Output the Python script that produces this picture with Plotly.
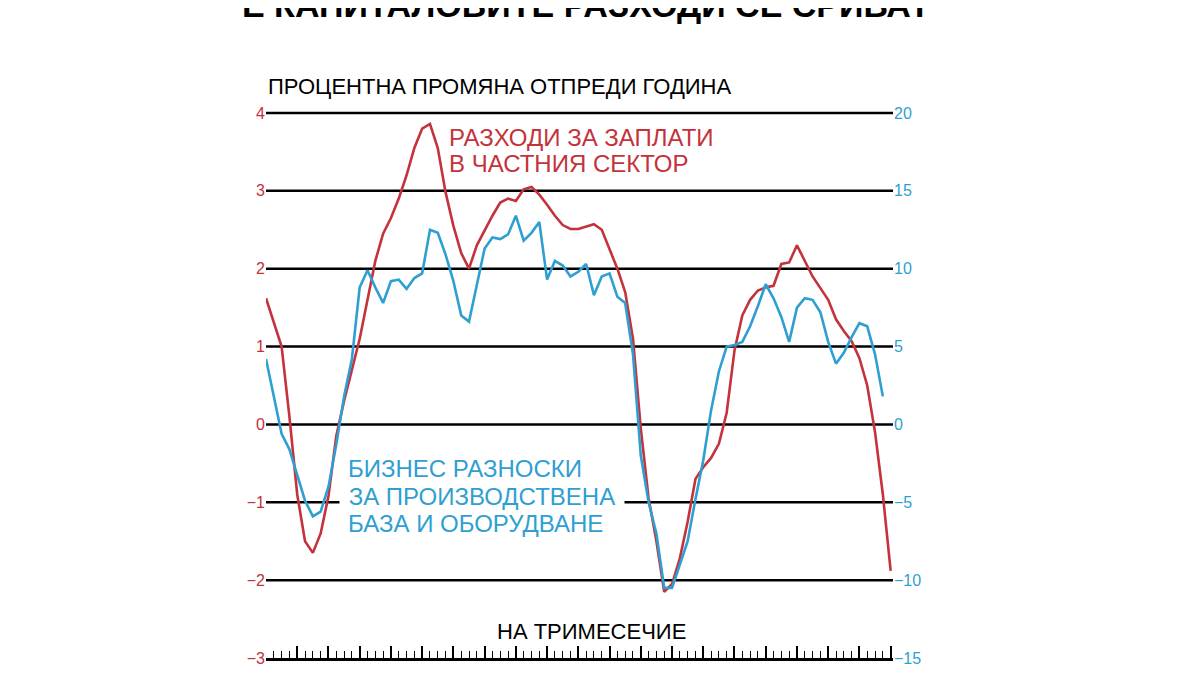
import plotly.graph_objects as go

# тримесечия, 1989 Q1 - 2009 Q1 (индекс 0..80)
quarters = list(range(81))

# разходи за заплати в частния сектор, % спрямо предходната година (лява ос)
wages = [1.62, 1.3, 1.0, 0.1, -0.9, -1.5, -1.65, -1.4, -0.92, -0.15,
         0.3, 0.7, 1.1, 1.6, 2.1, 2.45, 2.65, 2.9, 3.2, 3.55,
         3.8, 3.86, 3.55, 2.98, 2.55, 2.2, 2.0, 2.3, 2.5, 2.68,
         2.85, 2.9, 2.87, 3.02, 3.05, 2.95, 2.82, 2.68, 2.56, 2.51,
         2.51, 2.54, 2.57, 2.5, 2.25, 2.0, 1.7, 1.1, -0.05, -0.95,
         -1.5, -2.15, -2.05, -1.72, -1.25, -0.7, -0.55, -0.43, -0.25, 0.15,
         0.95, 1.4, 1.6, 1.72, 1.76, 1.78, 2.06, 2.08, 2.3, 2.1,
         1.9, 1.75, 1.6, 1.35, 1.2, 1.07, 0.85, 0.5, -0.1, -0.9,
         -1.88]

# бизнес разноски за база и оборудване, % (дясна ос)
capex = [4.2, 1.8, -0.6, -1.6, -3.3, -4.9, -5.9, -5.6, -4.0, -1.3,
         1.8, 4.2, 8.8, 9.9, 8.8, 7.8, 9.2, 9.3, 8.7, 9.4,
         9.7, 12.5, 12.3, 10.9, 9.2, 7.0, 6.6, 9.0, 11.3, 12.0,
         11.9, 12.2, 13.4, 11.8, 12.3, 13.0, 9.3, 10.5, 10.2, 9.5,
         9.8, 10.3, 8.3, 9.5, 9.7, 8.2, 7.8, 4.5, -2.0, -5.0,
         -7.0, -10.5, -10.5, -9.0, -7.5, -4.8, -2.3, 0.9, 3.4, 5.0,
         5.1, 5.3, 6.3, 7.6, 9.0, 8.1, 6.9, 5.3, 7.5, 8.1,
         8.0, 7.2, 5.3, 3.9, 4.6, 5.6, 6.5, 6.3, 4.5, 1.8]

left_ticks = [-3, -2, -1, 0, 1, 2, 3, 4]
right_ticks = [-15, -10, -5, 0, 5, 10, 15, 20]

red_label = ['РАЗХОДИ ЗА ЗАПЛАТИ', 'В ЧАСТНИЯ СЕКТОР']
blue_label = ['БИЗНЕС РАЗНОСКИ', 'БАЗА И ОБОРУДВАНЕ', 'ЗА ПРОИЗВОДСТВЕНА']

red = '#c4323c'
blue = '#2f9fd2'
font = 'Liberation Sans, Arial'

fig = go.Figure()
fig.add_trace(go.Scatter(x=quarters, y=wages, mode='lines',
                         line=dict(color=red, width=2.6), yaxis='y'))
fig.add_trace(go.Scatter(x=quarters[:len(capex)], y=capex, mode='lines',
                         line=dict(color=blue, width=2.6), yaxis='y2'))

# хоризонтални линии (включително горната при 4)
for v in left_ticks[1:]:
    fig.add_shape(type='line', xref='paper', yref='y', x0=0, x1=1, y0=v, y1=v,
                  line=dict(color='black', width=2.5), layer='below')

fig.update_layout(
    width=1200,
    height=675,
    showlegend=False,
    plot_bgcolor='white',
    paper_bgcolor='white',
    margin=dict(l=258, r=315, t=103, b=25),
    xaxis=dict(
        range=[0, 80.3],
        showgrid=False,
        zeroline=False,
        showticklabels=False,
        showline=True, linecolor='black', linewidth=2.5,
        ticks='inside', tick0=0, dtick=4, ticklen=12, tickwidth=1.6, tickcolor='black',
        minor=dict(ticks='inside', dtick=1, ticklen=7, tickwidth=1.4, tickcolor='black'),
    ),
    yaxis=dict(
        range=[-3, 4.025],
        tickvals=left_ticks,
        showgrid=False,
        zeroline=False,
        tickfont=dict(family=font, size=16, color=red),
        ticks='',
    ),
    yaxis2=dict(
        range=[-15, 20.125],
        tickvals=right_ticks,
        overlaying='y', side='right',
        showgrid=False, zeroline=False,
        tickfont=dict(family=font, size=16, color=blue),
        ticks='',
    ),
)

fig.add_annotation(xref='paper', yref='paper', x=0.51, y=1, yshift=85,
                   xanchor='center', yanchor='bottom', showarrow=False,
                   text='<b>Е КАПИТАЛОВИТЕ РАЗХОДИ СЕ СРИВАТ</b>',
                   font=dict(family=font, size=34, color='black'))
fig.add_annotation(xref='paper', yref='paper', x=0, y=1, yshift=10,
                   xanchor='left', yanchor='bottom', showarrow=False,
                   text='ПРОЦЕНТНА ПРОМЯНА ОТПРЕДИ ГОДИНА',
                   font=dict(family=font, size=22, color='black'))

for text, yv in zip(red_label, [3.68, 3.35]):
    fig.add_annotation(xref='x', yref='y', x=23.2, y=yv, xanchor='left', showarrow=False,
                       text=text, font=dict(family=font, size=24, color=red))

# средният ред се рисува последен, с бял фон върху линията при -1
for text, yv in zip(blue_label, [-0.56, -1.27, -0.92]):
    if text == blue_label[2]:
        fig.add_annotation(xref='x', yref='y', x=9.3, y=yv, xanchor='left', showarrow=False,
                           text='\u00a0' + text + '\u00a0', bgcolor='white', borderpad=2,
                           font=dict(family=font, size=24, color=blue))
    else:
        fig.add_annotation(xref='x', yref='y', x=10.3, y=yv, xanchor='left', showarrow=False,
                           text=text, font=dict(family=font, size=24, color=blue))

fig.add_annotation(xref='x', yref='y', x=41.7, y=-2.66, xanchor='center', showarrow=False,
                   text='НА ТРИМЕСЕЧИЕ',
                   font=dict(family=font, size=22, color='black'))

fig.write_html("out.html")
